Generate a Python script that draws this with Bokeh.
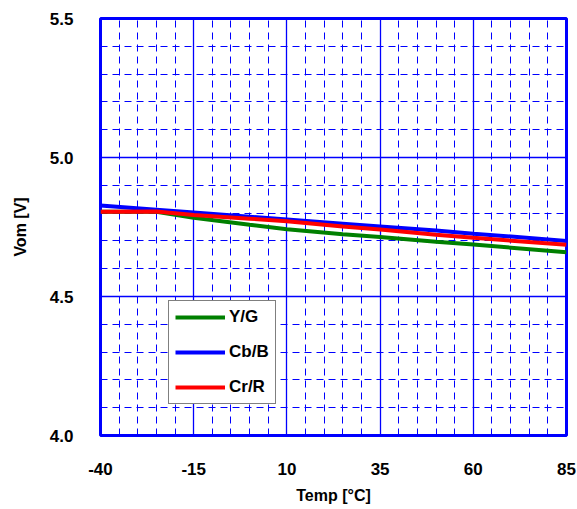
from bokeh.plotting import figure
from bokeh.models import (FixedTicker, Range1d, Legend, LegendItem, Label,
                          CustomJSTickFormatter)
from bokeh.embed import file_html
from bokeh.resources import INLINE

# Output amplitude vs. temperature for the three video channels
temps = [-40, -25, -15, 0, 10, 25, 35, 50, 60, 85]
vom_yg = [4.805, 4.805, 4.783, 4.758, 4.742, 4.724, 4.714, 4.697, 4.687, 4.659]
vom_cbb = [4.827, 4.812, 4.802, 4.787, 4.777, 4.762, 4.752, 4.737, 4.726, 4.700]
vom_crr = [4.805, 4.806, 4.793, 4.780, 4.771, 4.752, 4.741, 4.722, 4.711, 4.686]

x_ticks = [-40, -15, 10, 35, 60, 85]
x_minor = [t for t in range(-40, 86, 5)]
y_ticks = [4.0, 4.5, 5.0, 5.5]
y_minor = [round(4.0 + 0.1 * i, 1) for i in range(16)]

FONT = "Liberation Sans"
BLUE = "#0000FF"

p = figure(frame_width=466, frame_height=417,
           min_border_left=100, min_border_right=11,
           min_border_top=18, min_border_bottom=74,
           x_range=Range1d(-40, 85), y_range=Range1d(4.0, 5.5),
           output_backend="svg", toolbar_location=None,
           background_fill_color="white", border_fill_color="white")

p.xaxis.ticker = FixedTicker(ticks=x_ticks, minor_ticks=x_minor)
p.yaxis.ticker = FixedTicker(ticks=y_ticks, minor_ticks=y_minor)
# plain hyphen for negatives, one decimal on the voltage axis
p.xaxis.formatter = CustomJSTickFormatter(code="return String(Math.round(tick));")
p.yaxis.formatter = CustomJSTickFormatter(code="return tick.toFixed(1);")

for ax in (p.xaxis, p.yaxis):
    ax.axis_line_color = None
    ax.major_tick_line_color = None
    ax.minor_tick_line_color = None
    ax.major_label_text_font = FONT
    ax.major_label_text_font_style = "bold"
    ax.major_label_text_font_size = "17px"
    ax.major_label_text_color = "black"
    ax.axis_label_text_font = FONT
    ax.axis_label_text_font_style = "bold"
    ax.axis_label_text_font_size = "16px"
    ax.axis_label_text_color = "black"

p.xaxis.major_label_standoff = 21
p.yaxis.major_label_standoff = 21
p.xaxis.axis_label = "Temp [°C]"
p.yaxis.axis_label = "Vom [V]"
p.xaxis.axis_label_standoff = 9
p.yaxis.axis_label_standoff = 18

for g in (p.xgrid, p.ygrid):
    g.grid_line_color = BLUE
    g.grid_line_width = 1.3
    g.grid_line_alpha = 1.0
    g.minor_grid_line_color = BLUE
    g.minor_grid_line_width = 1
    g.minor_grid_line_dash = "7 5"

p.outline_line_color = BLUE
p.outline_line_width = 3
p.outline_line_alpha = 1.0

r_yg = p.line(temps, vom_yg, line_color="#008000", line_width=4)
r_cbb = p.line(temps, vom_cbb, line_color="#0000FF", line_width=4)
r_crr = p.line(temps, vom_crr, line_color="#FF0000", line_width=4)

legend = Legend(items=[LegendItem(label="Y/G", renderers=[r_yg]),
                       LegendItem(label="Cb/B", renderers=[r_cbb]),
                       LegendItem(label="Cr/R", renderers=[r_crr])],
                location=(68, 31), orientation="vertical",
                glyph_width=50, glyph_height=20, label_height=20,
                label_standoff=4, spacing=15, padding=6, margin=0,
                border_line_color="black", border_line_width=1,
                background_fill_color="white", background_fill_alpha=1.0,
                label_text_font=FONT, label_text_font_style="bold",
                label_text_font_size="17px", label_text_color="black")
p.add_layout(legend, "center")

# Chart title sits mostly above the canvas top
title = Label(x=233, y=417 + 13, x_units="screen", y_units="screen",
              text="(VT=5.0V , VIN=100kHz)", text_align="center",
              text_baseline="alphabetic", text_font=FONT,
              text_font_style="bold", text_font_size="17px",
              text_color="black")
p.add_layout(title)

open("out.html", "w").write(file_html(p, INLINE))
